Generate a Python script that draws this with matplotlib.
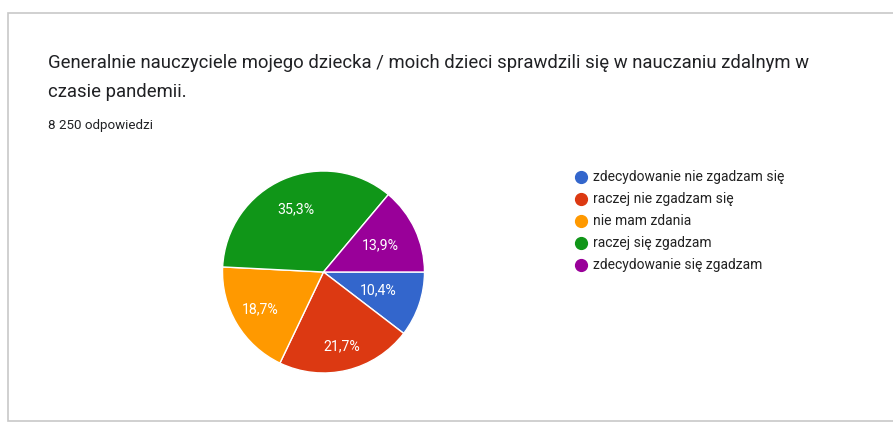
import numpy as np
import matplotlib.pyplot as plt
from matplotlib.patches import Rectangle
from matplotlib.lines import Line2D

plt.rcParams['font.family'] = ['Roboto', 'DejaVu Sans']

# dane z ankiety
categories = ['zdecydowanie nie zgadzam się', 'raczej nie zgadzam się', 'nie mam zdania',
              'raczej się zgadzam', 'zdecydowanie się zgadzam']
shares = [10.4, 21.7, 18.7, 35.3, 13.9]
colors = ['#3366cc', '#dc3912', '#ff9900', '#109618', '#990099']
title_lines = ['Generalnie nauczyciele mojego dziecka / moich dzieci sprawdzili się w nauczaniu zdalnym w',
               'czasie pandemii.']
subtitle = '8 250 odpowiedzi'

W, H = 893, 425
fig = plt.figure(figsize=(W / 100, H / 100), dpi=100)

# karta z ramka
card = Rectangle((8 / W, 4 / H), 1.0, (H - 17) / H, transform=fig.transFigure,
                 facecolor='white', edgecolor='#c8c8c8', linewidth=1.2, zorder=-5)
fig.patches.append(card)

for line, y in zip(title_lines, [63, 92]):
    fig.text(48 / W, 1 - y / H, line, fontsize=13.3, color='#202124',
             va='center', ha='left')
fig.text(48 / W, 1 - 125 / H, subtitle, fontsize=9.6, color='#202124',
         va='center', ha='left')

# wykres kołowy
cx, cy, r = 323.5, 272, 102
ax = fig.add_axes([(cx - r) / W, (H - cy - r) / H, 2 * r / W, 2 * r / H])
wedges, texts, autotexts = ax.pie(
    shares, colors=colors, startangle=0, counterclock=False,
    autopct=lambda p: f'{p:.1f}%'.replace('.', ','), pctdistance=0.68,
    wedgeprops=dict(edgecolor='white', linewidth=1.0),
    textprops=dict(color='white', fontsize=10.2))

# etykiety procentowe rozmieszczone jak w Google Forms
label_dist = [0.57, 0.76, 0.73, 0.68, 0.62]
for w, t, d in zip(wedges, autotexts, label_dist):
    a = np.deg2rad((w.theta1 + w.theta2) / 2)
    t.set_position((d * np.cos(a), d * np.sin(a)))

ax.set_xlim(-1.01, 1.01)
ax.set_ylim(-1.01, 1.01)
ax.axis('off')

# legenda
ys = [177, 199, 221, 243, 265]
for lab, col, y in zip(categories, colors, ys):
    fig.add_artist(Line2D([580.5 / W], [1 - y / H], marker='o', markersize=8.5,
                          color=col, transform=fig.transFigure))
    fig.text(593 / W, 1 - y / H, lab, fontsize=10, color='#222222',
             va='center', ha='left')

fig.savefig('out.png', dpi=100)
